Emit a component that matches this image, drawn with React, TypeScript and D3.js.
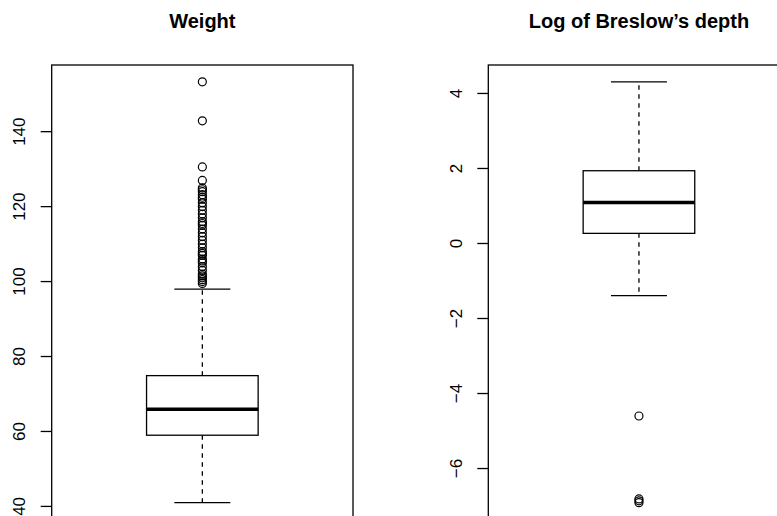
import React from 'react';
import * as d3 from 'd3';

// Panel titles
const titles = ['Weight', 'Log of Breslow’s depth'];

// five-number summaries: [lower whisker, Q1, median, Q3, upper whisker]
const weightStats = [41, 59, 65.9, 74.9, 98];
const weightOutliers = [
  153.3, 142.9, 130.6, 127, 125, 124.5, 124, 123.2, 122.5, 122, 121, 120, 119,
  118, 117, 116, 115.5, 115, 114, 113, 112, 111, 110, 109, 108, 107.5, 107,
  106, 105.5, 105, 104, 103, 102, 101.5, 101, 100.5, 100, 99.5,
];
const weightTicks = [40, 60, 80, 100, 120, 140];

const depthStats = [-1.39, 0.27, 1.09, 1.94, 4.31];
const depthOutliers = [-4.6, -6.81, -6.86, -6.91];
const depthTicks = [-6, -4, -2, 0, 2, 4];

const W = 777;
const H = 516;
const font = '"Liberation Sans", Arial, Helvetica, sans-serif';

type PanelProps = {
  title: string;
  stats: number[];
  outliers: number[];
  ticks: number[];
  left: number;
};

function Panel({ title, stats, outliers, ticks, left }: PanelProps) {
  const plotW = 301.3;
  const top = 65;
  const bottom = 519.5;
  const cx = left + plotW / 2;

  // R style: data range stretched by 4% on each side
  const all = [...stats, ...outliers];
  const lo = d3.min(all) as number;
  const hi = d3.max(all) as number;
  const pad = (hi - lo) * 0.04;
  const y = d3.scaleLinear().domain([lo - pad, hi + pad]).range([bottom, top]);

  const [wLo, q1, med, q3, wHi] = stats;
  const boxHalf = 55.8;
  const capHalf = 28;

  return (
    <g>
      <text
        x={cx}
        y={28}
        textAnchor="middle"
        fontFamily={font}
        fontWeight="bold"
        fontSize={20}
        fill="#000"
      >
        {title}
      </text>

      {/* frame */}
      <rect x={left} y={top} width={plotW} height={bottom - top} fill="none" stroke="#000" strokeWidth={1.3} />

      {/* y axis ticks */}
      {ticks.map((t) => (
        <g key={t}>
          <line x1={left - 11} x2={left} y1={y(t)} y2={y(t)} stroke="#000" strokeWidth={1.3} />
          <text
            transform={`translate(${left - 32},${y(t)}) rotate(-90)`}
            textAnchor="middle"
            dominantBaseline="central"
            fontFamily={font}
            fontSize={17}
            fill="#000"
          >
            {t < 0 ? `\u2212${Math.abs(t)}` : t}
          </text>
        </g>
      ))}

      {/* whiskers */}
      <line x1={cx} x2={cx} y1={y(q3)} y2={y(wHi)} stroke="#000" strokeWidth={1.3} strokeDasharray="4.5,4.5" />
      <line x1={cx} x2={cx} y1={y(q1)} y2={y(wLo)} stroke="#000" strokeWidth={1.3} strokeDasharray="4.5,4.5" />
      <line x1={cx - capHalf} x2={cx + capHalf} y1={y(wHi)} y2={y(wHi)} stroke="#000" strokeWidth={1.3} />
      <line x1={cx - capHalf} x2={cx + capHalf} y1={y(wLo)} y2={y(wLo)} stroke="#000" strokeWidth={1.3} />

      {/* box */}
      <rect
        x={cx - boxHalf}
        y={y(q3)}
        width={boxHalf * 2}
        height={y(q1) - y(q3)}
        fill="#fff"
        stroke="#000"
        strokeWidth={1.3}
      />
      <line x1={cx - boxHalf} x2={cx + boxHalf} y1={y(med)} y2={y(med)} stroke="#000" strokeWidth={3.5} />

      {/* outliers */}
      {outliers.map((o, i) => (
        <circle key={i} cx={cx} cy={y(o)} r={4} fill="none" stroke="#000" strokeWidth={1.2} />
      ))}
    </g>
  );
}

export default function App() {
  return (
    <svg
      width={W}
      height={H}
      style={{ position: 'absolute', left: 0, top: 0, background: '#fff', overflow: 'hidden' }}
    >
      <rect width={W} height={H} fill="#fff" />
      <Panel title={titles[0]} stats={weightStats} outliers={weightOutliers} ticks={weightTicks} left={51.7} />
      <Panel title={titles[1]} stats={depthStats} outliers={depthOutliers} ticks={depthTicks} left={488.3} />
    </svg>
  );
}
